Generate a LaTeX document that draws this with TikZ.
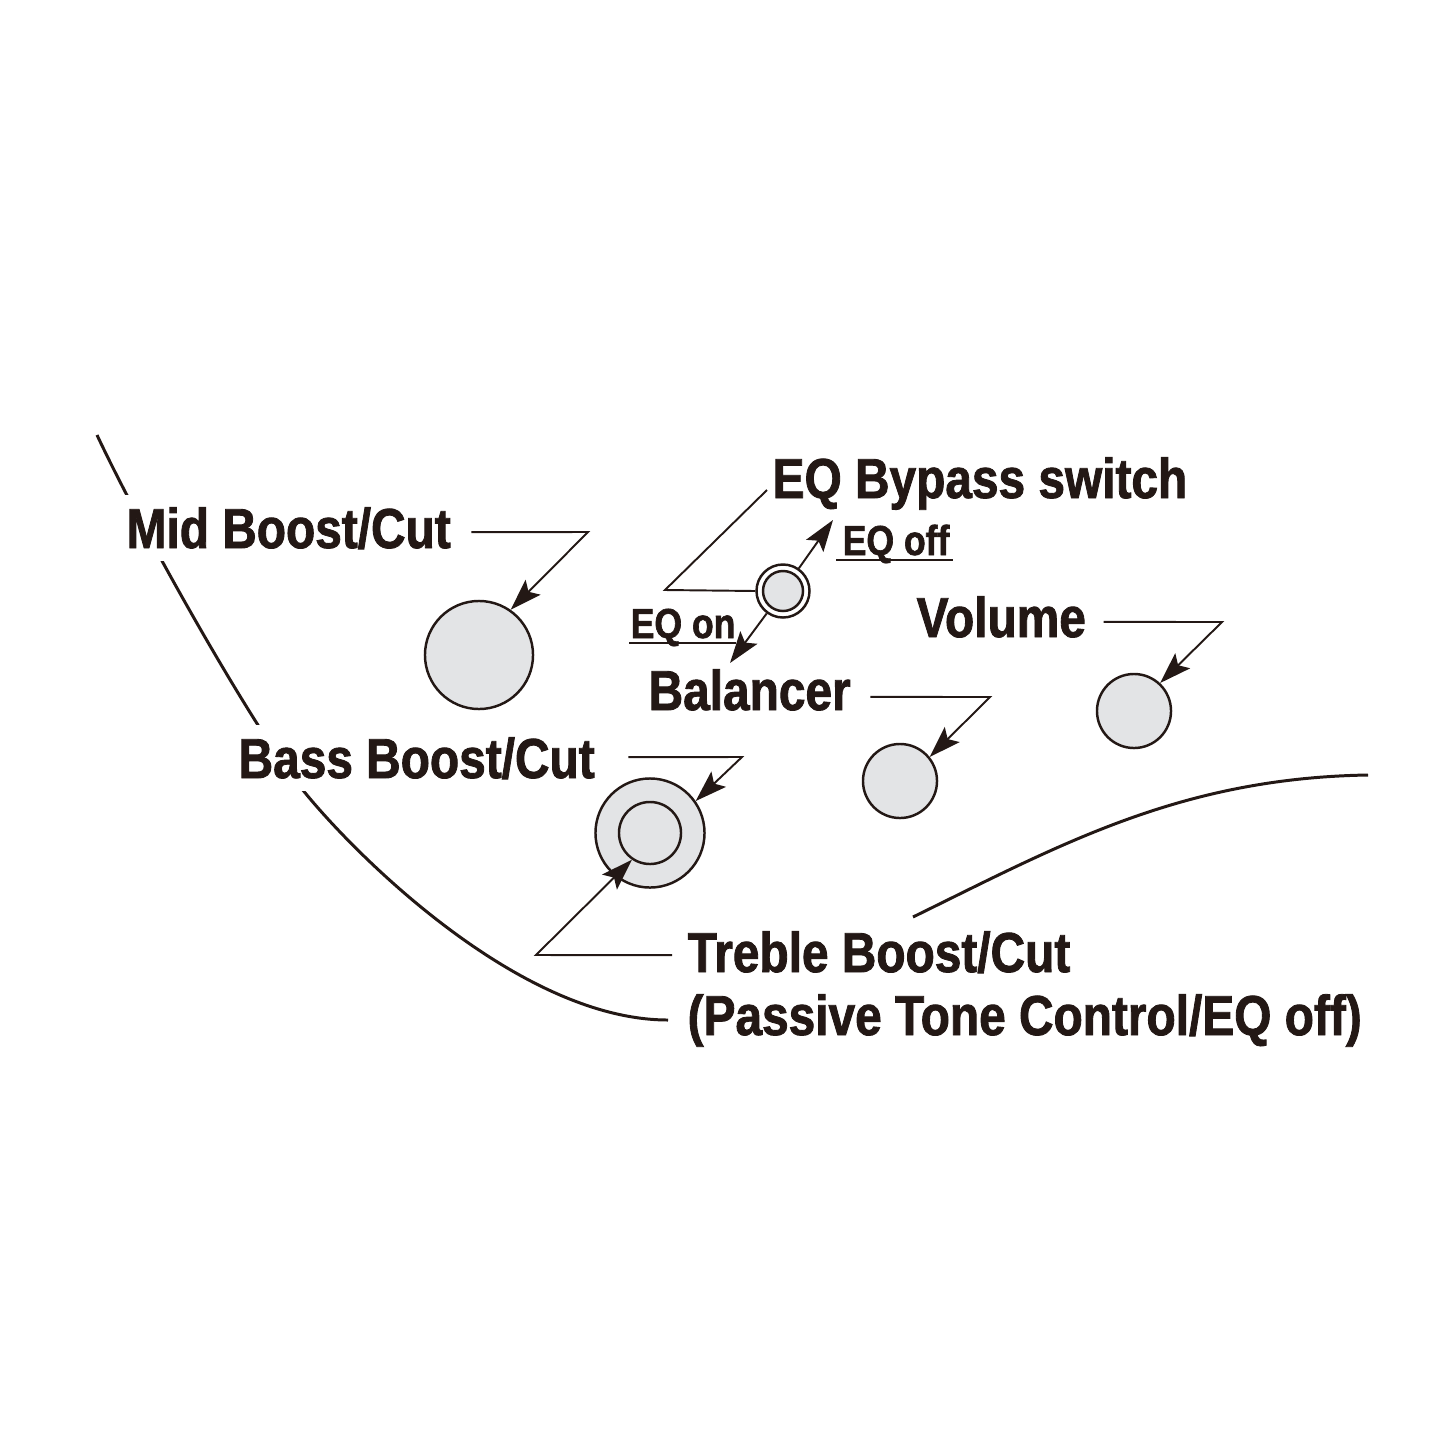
\documentclass[tikz,border=0pt]{standalone}
\usepackage{fontspec}
\setmainfont{Liberation Sans}[FakeStretch=0.85, BoldFeatures={FakeBold=1.5}]
\usetikzlibrary{arrows.meta}
\definecolor{ink}{HTML}{231815}
\definecolor{knobgray}{HTML}{E3E4E6}

\begin{document}
\begin{tikzpicture}[
    x=0.01cm, y=-0.01cm,
    lbl/.style={font=\bfseries\fontsize{16}{18}\selectfont, text=ink, fill=white, inner sep=3.4pt, anchor=base west},
    sml/.style={font=\bfseries\fontsize{11.9}{14}\selectfont, text=ink, inner sep=0pt, anchor=base west},
    knob/.style={circle, draw=ink, line width=0.7pt, fill=knobgray, inner sep=0pt},
    lead/.style={draw=ink, line width=0.55pt, -{Stealth[length=9pt, width=6pt, inset=1.8pt]}},
    body/.style={draw=ink, line width=0.85pt},
]
\useasboundingbox (0,0) rectangle (1445,1445);

% body outline
\draw[body] (97,435) .. controls (144,535) and (254,729) .. (302,789)
    .. controls (355,855) and (520,1020) .. (668,1020);
\draw[body] (913,917) .. controls (1060,845) and (1180,778) .. (1368,775);

% labels
\node[lbl] (midlbl)  at (114,548) {Mid Boost/Cut};
\node[lbl] (eqlbl)   at (760,498) {EQ Bypass switch};
\node[lbl] (vollbl)  at (904,637) {Volume};
\node[lbl] (ballbl)  at (636,710) {Balancer};
\node[lbl] (basslbl) at (226,778) {Bass Boost/Cut};
\node[lbl] (trblbl)  at (675,972) {Treble Boost/Cut};
\node[lbl] (pasvlbl) at (675,1035) {(Passive Tone Control/EQ off)};
\node[sml] (offlbl)  at (842,555) {EQ off};
\node[sml] (onlbl)   at (630,638) {EQ on};

% underlines
\draw[ink, line width=0.7pt] ([shift={(-6,5)}]offlbl.base west) -- ([shift={(3,5)}]offlbl.base east);
\draw[ink, line width=0.7pt] ([shift={(-1,5)}]onlbl.base west) -- ([shift={(0,5)}]onlbl.base east);

% knobs
\node[knob, minimum size=1.08cm] (mid)  at (479,655) {};
\node[knob, minimum size=0.53cm, fill=white] (eqsw) at (783,591) {};
\node[knob, minimum size=0.40cm] (eqin) at (783,591) {};
\node[knob, minimum size=0.74cm] (bal)  at (900,781) {};
\node[knob, minimum size=0.74cm] (vol)  at (1134,711) {};
\node[knob, minimum size=1.09cm] (bass) at (650,833) {};
\node[knob, minimum size=0.62cm] (treb) at (650,833) {};

\coordinate (offtip) at (833,520);
\coordinate (ontip)  at (730,663);

% leaders
\draw[lead] (midlbl.east) ++(8,4) -- (588,532) -- (mid.55);
\draw[draw=ink, line width=0.55pt] (eqlbl.base west) ++(7,-8) -- (665,590) -- (eqsw.west);
\draw[lead] (eqsw.55) -- (offtip);
\draw[lead] (eqsw.234) -- (ontip);
\draw[lead] (ballbl.east) ++(7,7) -- (990,697) -- (bal.39);
\draw[lead] (vollbl.east) ++(5,5) -- (1222,622) -- (vol.47);
\draw[lead] (basslbl.east) ++(21,-1) -- (742,757) -- (bass.35);
\draw[lead] (trblbl.west) ++(-3,3) -- (536,955) -- (treb.236);

\end{tikzpicture}
\end{document}
